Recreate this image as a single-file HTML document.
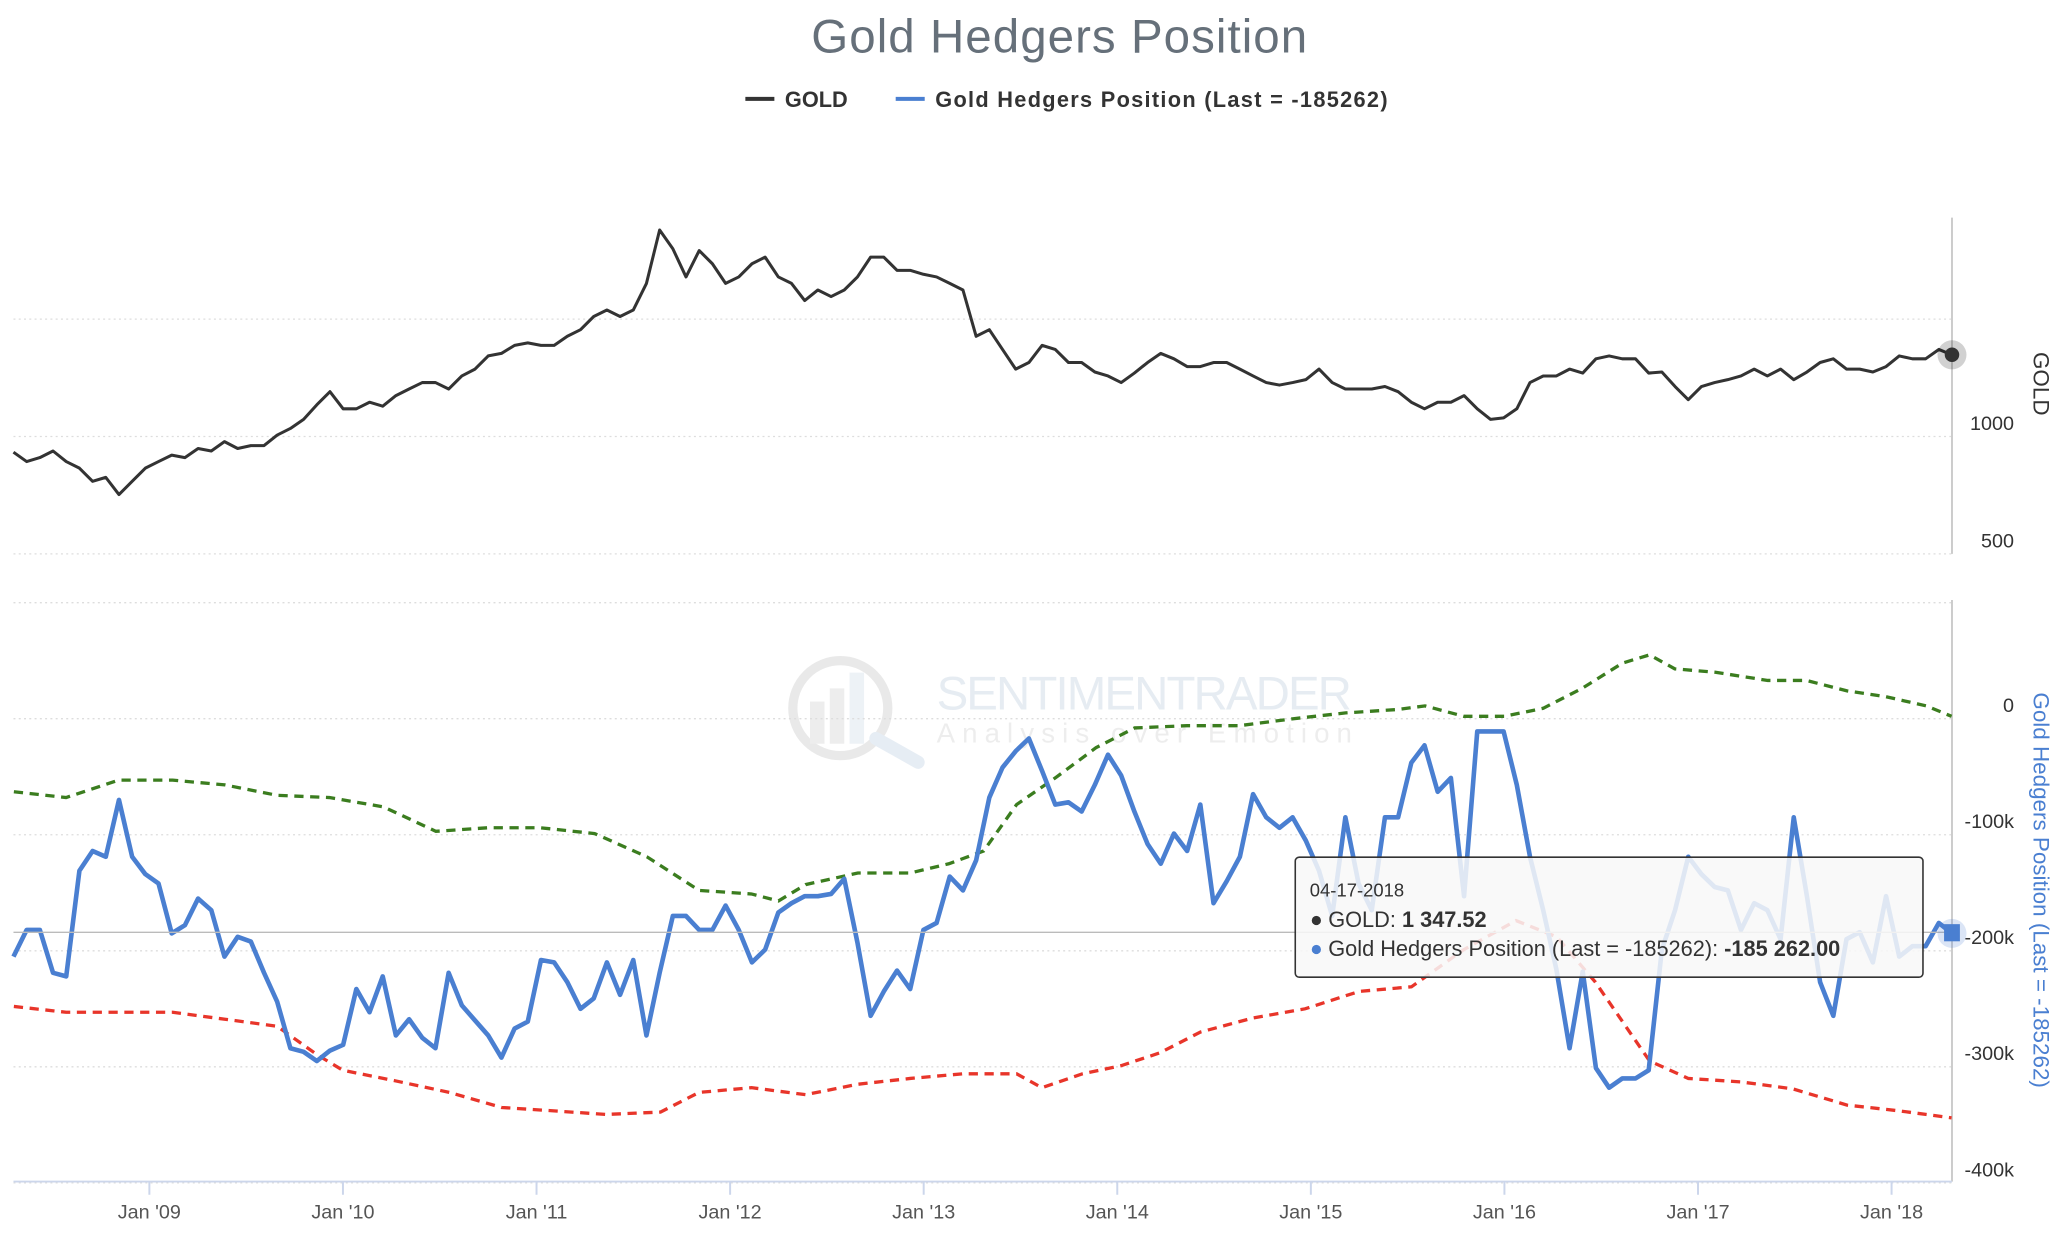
<!DOCTYPE html>
<html><head><meta charset="utf-8"><title>Gold Hedgers Position</title>
<style>
html,body{margin:0;padding:0;background:#fff;}
svg{display:block;font-family:"Liberation Sans",sans-serif;}
</style></head>
<body>
<svg id="chart" width="2067" height="1233" viewBox="0 0 1567 935" xmlns="http://www.w3.org/2000/svg">
<rect x="0" y="0" width="1567" height="935" fill="#fff"/>
<text x="803" y="40" text-anchor="middle" font-size="36" fill="#66707a" textLength="376">Gold Hedgers Position</text>
<g>
 <g>
  <line x1="565" y1="75" x2="587" y2="75" stroke="#333" stroke-width="3"/>
  <text x="595" y="81" font-size="16.5" font-weight="bold" fill="#333">GOLD</text>
 </g>
 <g>
  <line x1="679" y1="75" x2="701" y2="75" stroke="#4a7fd1" stroke-width="3"/>
  <text x="709" y="81" font-size="16.5" font-weight="bold" fill="#333" textLength="343">Gold Hedgers Position (Last = -185262)</text>
 </g>
</g>
<g opacity="0.5">
 <circle cx="637" cy="537" r="36" fill="none" stroke="#d4d4d4" stroke-width="7"/>
 <rect x="614" y="532" width="11" height="32" fill="#dcdcdc"/>
 <rect x="629" y="522" width="11" height="42" fill="#dcdcdc"/>
 <rect x="644" y="510" width="11" height="54" fill="#dde6ef"/>
 <line x1="664" y1="560" x2="696" y2="578" stroke="#cfdcea" stroke-width="10" stroke-linecap="round"/>
 <text x="710" y="538" font-size="36" fill="#cfdae6" textLength="315">SENTIMENTRADER</text>
 <text x="710" y="563" font-size="21" fill="#ddd" textLength="315">Analysis over Emotion</text>
</g>
<g id="grid"></g>
<g id="axes"></g>
<g id="series"></g>
<line x1="10" y1="707" x2="1480" y2="707" stroke="#bbb" stroke-width="1"/>
<g id="markers"></g>
<g>
 <rect x="982" y="650" width="476" height="91" rx="3" fill="rgba(248,248,248,0.86)" stroke="#333" stroke-width="1.2"/>
 <text x="993" y="680" font-size="14" fill="#333">04-17-2018</text>
 <circle cx="998" cy="698" r="3.5" fill="#333"/>
 <text x="1007" y="703" font-size="16.5" fill="#333">GOLD: <tspan font-weight="bold">1 347.52</tspan></text>
 <circle cx="998" cy="720" r="3.5" fill="#4a7fd1"/>
 <text x="1007" y="725" font-size="16.5" fill="#333">Gold Hedgers Position (Last = -185262): <tspan font-weight="bold">-185 262.00</tspan></text>
</g>
<text transform="translate(1542,291) rotate(90)" text-anchor="middle" font-size="17" fill="#333">GOLD</text>
<text transform="translate(1542,675) rotate(90)" text-anchor="middle" font-size="17" fill="#4a7fd1">Gold Hedgers Position (Last = -185262)</text>
</svg>
<script>
// ---- data ----
const startYear = 2008.298;
const endYear = 2018.312;
const goldValues = [933,893,910,938,893,865,809,826,753,809,865,893,921,910,949,938,978,949,961,961,1006,1034,1073,1135,1191,1118,1118,1146,1129,1174,1202,1230,1230,1202,1258,1287,1343,1354,1388,1399,1388,1388,1427,1455,1511,1539,1511,1539,1652,1880,1800,1680,1792,1736,1652,1680,1736,1764,1680,1652,1579,1624,1596,1624,1680,1764,1764,1708,1708,1691,1680,1652,1624,1427,1455,1371,1287,1315,1388,1371,1315,1315,1275,1258,1230,1270,1315,1354,1331,1298,1298,1315,1315,1287,1258,1230,1219,1230,1242,1287,1230,1202,1202,1202,1213,1191,1146,1118,1146,1146,1174,1118,1073,1079,1118,1230,1258,1258,1287,1270,1331,1343,1331,1331,1270,1275,1213,1157,1213,1230,1242,1258,1287,1258,1287,1242,1275,1315,1331,1287,1287,1275,1298,1343,1331,1331,1371,1348];
const hedgerValues = [-205,-182,-182,-219,-222,-131,-114,-119,-70,-119,-134,-142,-185,-178,-155,-165,-205,-188,-192,-219,-244,-284,-287,-295,-286,-281,-233,-253,-222,-273,-259,-275,-284,-219,-247,-260,-273,-292,-267,-261,-208,-210,-227,-250,-241,-210,-238,-208,-273,-219,-170,-170,-182,-182,-161,-182,-210,-199,-167,-159,-153,-153,-151,-138,-193,-256,-235,-217,-233,-182,-176,-136,-148,-122,-68,-42,-28,-17,-45,-74,-72,-80,-57,-31,-49,-80,-108,-125,-99,-114,-74,-159,-140,-119,-65,-85,-94,-85,-105,-131,-170,-85,-142,-165,-85,-85,-38,-23,-63,-51,-153,-11,-11,-11,-57,-119,-165,-216,-284,-218,-301,-318,-310,-310,-303,-199,-165,-119,-134,-145,-148,-182,-159,-165,-190,-85,-153,-227,-256,-190,-184,-210,-153,-205,-196,-196,-176,-185];
const upperBandDates = [2008.30,2008.57,2008.84,2009.12,2009.39,2009.66,2009.93,2010.21,2010.48,2010.75,2011.02,2011.30,2011.57,2011.84,2012.11,2012.25,2012.39,2012.66,2012.93,2013.13,2013.31,2013.48,2013.68,2013.89,2014.09,2014.36,2014.63,2014.91,2015.18,2015.45,2015.59,2015.79,2016.00,2016.20,2016.40,2016.61,2016.75,2016.88,2017.09,2017.36,2017.56,2017.77,2017.97,2018.18,2018.31];
const upperBandValues = [-63,-68,-53,-53,-57,-66,-68,-76,-97,-94,-94,-99,-119,-148,-151,-157,-143,-133,-133,-125,-114,-74,-51,-25,-8,-6,-6,0,5,8,11,2,2,9,26,48,55,43,40,33,33,24,19,11,2];
const lowerBandDates = [2008.30,2008.57,2008.84,2009.12,2009.39,2009.66,2009.87,2010.00,2010.27,2010.55,2010.82,2011.09,2011.36,2011.64,2011.84,2012.11,2012.39,2012.66,2012.93,2013.20,2013.48,2013.61,2013.82,2014.02,2014.22,2014.43,2014.70,2014.97,2015.25,2015.52,2015.79,2016.06,2016.27,2016.47,2016.75,2016.95,2017.22,2017.49,2017.77,2018.04,2018.31];
const lowerBandValues = [-248,-253,-253,-253,-259,-265,-290,-303,-312,-322,-335,-338,-341,-339,-322,-318,-324,-315,-310,-306,-306,-318,-306,-299,-288,-270,-258,-250,-235,-231,-199,-174,-188,-227,-295,-310,-313,-319,-333,-338,-344];
const xTickLabels = ["Jan '09","Jan '10","Jan '11","Jan '12","Jan '13","Jan '14","Jan '15","Jan '16","Jan '17","Jan '18"];
const xTickYears = [2009,2010,2011,2012,2013,2014,2015,2016,2017,2018];
const goldTicks = [500,1000,1500];
const goldTickLabels = ["500","1000",""];
const hedgerTicks = [-400,-300,-200,-100,0,100];
const hedgerTickLabels = ["-400k","-300k","-200k","-100k","0",""];

// ---- scales ----
const X0=10, X1=1480;
const xScale = t => X0 + (t-startYear)/(endYear-startYear)*(X1-X0);
const yGold = g => 331 - (g-1000)*0.178;
const yHedge = v => 545 - v*0.88;
const NS="http://www.w3.org/2000/svg";
function mk(tag, attrs, parent){const e=document.createElementNS(NS,tag);for(const k in attrs)e.setAttribute(k,attrs[k]);parent.appendChild(e);return e;}
const grid=document.getElementById('grid'), axes=document.getElementById('axes'), series=document.getElementById('series'), markers=document.getElementById('markers');

goldTicks.forEach((g,i)=>{
  const y=yGold(g);
  const l=mk('line',{x1:X0,x2:X1,y1:y,y2:y,stroke:'#ddd','stroke-dasharray':'1.5 2.5'},grid);
  
  
  if(goldTickLabels[i]){const t=mk('text',{x:1527,y:y-5,'text-anchor':'end','font-size':15,fill:'#333'},axes);t.textContent=goldTickLabels[i];
  
  }
});
hedgerTicks.forEach((v,i)=>{
  const y=yHedge(v);
  const l=mk('line',{x1:X0,x2:X1,y1:y,y2:y,stroke:'#ddd','stroke-dasharray':'1.5 2.5'},grid);
  
  
  if(hedgerTickLabels[i]){const t=mk('text',{x:1527,y:y-5,'text-anchor':'end','font-size':15,fill:'#333'},axes);t.textContent=hedgerTickLabels[i];
  
  }
});
let a=mk('line',{x1:X1,x2:X1,y1:165,y2:420,stroke:'#ccc','stroke-width':1.5},axes);


a=mk('line',{x1:X1,x2:X1,y1:455,y2:896,stroke:'#ccc','stroke-width':1.5},axes);


a=mk('line',{x1:X0,x2:X1,y1:896,y2:896,stroke:'#ccd6eb','stroke-width':1.5},axes);


xTickYears.forEach((yr,i)=>{
  const x=xScale(yr);
  const tk=mk('line',{x1:x,x2:x,y1:896,y2:906,stroke:'#ccd6eb','stroke-width':1.5},axes);
  
  
  const t=mk('text',{x:x,y:924,'text-anchor':'middle','font-size':15,fill:'#555'},axes);t.textContent=xTickLabels[i];
  
  
});

function uniformPath(vals, yf){
  const n=vals.length;
  return vals.map((v,i)=>(i?'L':'M')+xScale(startYear+(endYear-startYear)*i/(n-1)).toFixed(1)+','+yf(v).toFixed(1)).join('');
}
function datedPath(ds, vals, yf){
  return vals.map((v,i)=>(i?'L':'M')+xScale(ds[i]).toFixed(1)+','+yf(v).toFixed(1)).join('');
}
let p=mk('path',{d:datedPath(upperBandDates,upperBandValues,yHedge),fill:'none',stroke:'#3b7d1f','stroke-width':2.5,'stroke-dasharray':'7 5'},series);


p=mk('path',{d:datedPath(lowerBandDates,lowerBandValues,yHedge),fill:'none',stroke:'#e8352a','stroke-width':2.5,'stroke-dasharray':'7 5'},series);


p=mk('path',{d:uniformPath(hedgerValues,yHedge),fill:'none',stroke:'#4a7fd1','stroke-width':3.5,'stroke-linejoin':'round'},series);


p=mk('path',{d:uniformPath(goldValues,yGold),fill:'none',stroke:'#333','stroke-width':2.3,'stroke-linejoin':'round'},series);



const gl=goldValues[goldValues.length-1], hl=hedgerValues[hedgerValues.length-1];
let m=mk('circle',{cx:X1,cy:yGold(gl),r:11,fill:'rgba(0,0,0,0.18)'},markers);


m=mk('circle',{cx:X1,cy:yGold(gl),r:5.5,fill:'#333'},markers);


m=mk('circle',{cx:X1,cy:yHedge(hl),r:11,fill:'rgba(74,127,209,0.2)'},markers);


m=mk('rect',{x:X1-6,y:yHedge(hl)-7,width:12,height:13,fill:'#4a7fd1'},markers);


</script>
</body></html>
